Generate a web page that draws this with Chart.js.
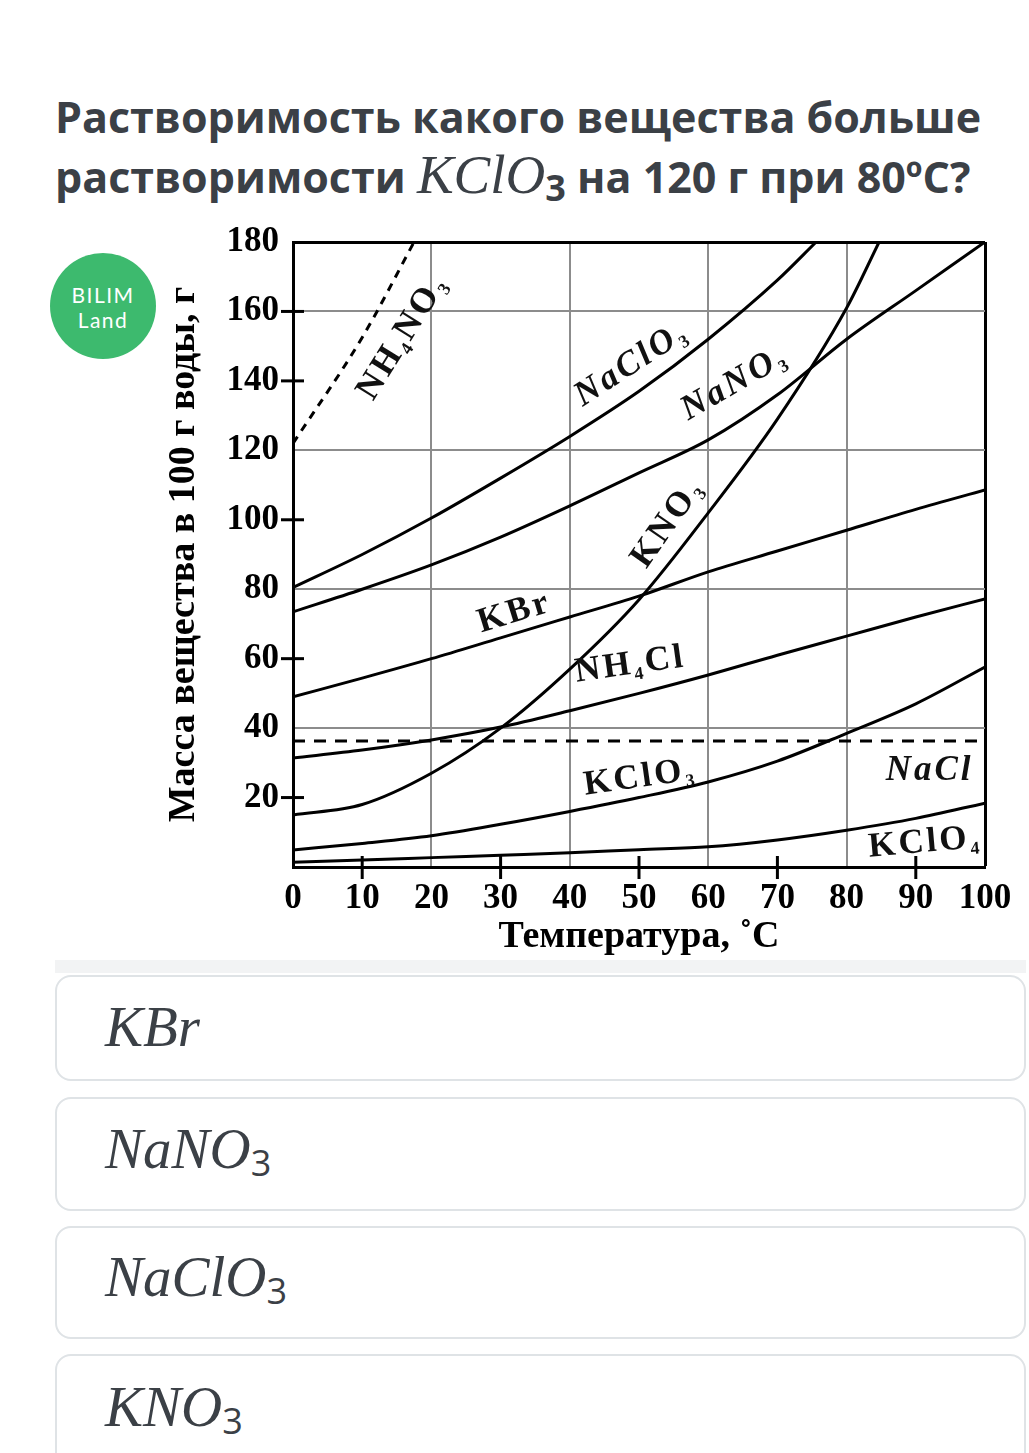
<!DOCTYPE html>
<html>
<head>
<meta charset="utf-8">
<script src="https://cdn.jsdelivr.net/npm/chart.js@4"></script>
<style>
  body{margin:0;background:#fff;width:1029px;height:1453px;overflow:hidden;position:relative;font-family:"Open Sans",sans-serif;color:#3b4046}
  #q{position:absolute;left:55px;top:88px;font-weight:700;font-size:43px;line-height:58px;white-space:nowrap}
  #q .m{font-family:"Liberation Serif",serif;font-style:italic;font-weight:400;font-size:55px}
  #q .s{font-size:36px;position:relative;top:8px}
  #logo{position:absolute;left:50px;top:253px;width:106px;height:106px;border-radius:50%;background:#3dba6e;color:#fff;
        font-family:Lato,sans-serif;font-weight:400;font-size:21px;line-height:25px;text-align:center;letter-spacing:1.5px}
  #logo div{padding-top:29px}
  #box{position:absolute;left:0;top:220px;width:1029px;height:750px}
  #band{position:absolute;left:55px;top:960px;width:971px;height:13px;background:#f2f3f4}
  .ans{position:absolute;left:55px;width:971px;border:2px solid #dfe3e6;border-radius:16px;box-sizing:border-box;background:#fff}
  .ans span{position:absolute;left:48px;font-family:"Liberation Serif",serif;font-style:italic;font-size:57px;line-height:56px;color:#3b4046;white-space:nowrap}
  .ans sub{font-family:"Open Sans",sans-serif;font-style:normal;font-size:36px;vertical-align:-8px}
</style>
</head>
<body>
<div id="q">Растворимость какого вещества больше<br>растворимости <span class="m">KClO</span><span class="s">3</span> на 120 г при 80ºC?</div>
<div id="logo"><div>BILIM<br>Land</div></div>
<div id="band"></div>
<div id="box"><canvas id="myChart" width="1029" height="750"></canvas></div>
<div class="ans" style="top:975px;height:106px"><span style="top:22px">KBr</span></div>
<div class="ans" style="top:1097px;height:114px"><span style="top:22px">NaNO<sub>3</sub></span></div>
<div class="ans" style="top:1226px;height:113px"><span style="top:21px">NaClO<sub>3</sub></span></div>
<div class="ans" style="top:1354px;height:120px"><span style="top:23px">KNO<sub>3</sub></span></div>
<script>
// valores (temperatura en C, masa en g por 100 g de agua)
var tFull = [0,10,20,30,40,50,60,70,80,90,100];
var tNaClO3 = [0,10,20,30,40,50,60,70,75.6];
var sNaClO3 = [80.5,90,100.5,112,124,137,152,169,180];
var sNaNO3 = [73.5,80,87,95,104,113.5,123,136,152,166,180];
var tKNO3 = [0,10,20,30,40,50,60,70,80,84.7];
var sKNO3 = [15,18,27,40,57,77,102,129,161,180];
var sKBr = [49,54.4,60,66,72,78,85,91,97,103,108.6];
var sNH4Cl = [31.4,33.7,36.6,40.3,45,50,55.3,61,66.5,72,77.2];
var sKClO3 = [4.9,6.8,9,12.3,16,20,24.5,30.5,38.5,47,57.6];
var sKClO4 = [1.4,2,2.7,3.4,4.1,5,5.8,7.8,10.6,14,18.4];
var tNaCl = [0,100];
var sNaCl = [36.3,36.3];
var tNH4NO3 = [0,10,17.5];
var sNH4NO3 = [122,152.5,180];

// marcas del eje y lineas de la rejilla
var xMarks = [10,30,50,70,90];
var yMarks = [20,60,100,140,160];
var xGrid = [20,40,60,80];
var yGrid = [40,80,120,160];

// etiquetas de las curvas: texto, posicion en valores, giro
var curveLabels = [
  {text:'NH_4NO_3', x:15.5, y:153, rot:-58, italic:false},
  {text:'NaClO_3', x:48.7, y:145.5, rot:-33, italic:true},
  {text:'NaNO_3', x:63.6, y:140, rot:-30, italic:true},
  {text:'KNO_3', x:53.8, y:99.5, rot:-55, italic:false},
  {text:'KBr', x:31.9, y:74, rot:-17, italic:false},
  {text:'NH_4Cl', x:48.7, y:59, rot:-8, italic:false},
  {text:'KClO_3', x:50.1, y:26.5, rot:-8, italic:false},
  {text:'NaCl', x:92, y:28.5, rot:0, italic:true},
  {text:'KClO_4', x:91.3, y:7.8, rot:-5, italic:false}
];

function pts(t, s){
  return t.map(function(v,i){ return {x:v, y:s[i]}; });
}
function serie(t, s, dash){
  return {data:pts(t,s), borderColor:'#000', borderWidth:3, pointRadius:0, fill:false,
          cubicInterpolationMode:'monotone', borderDash:dash || []};
}

var times = '"Liberation Serif", "DejaVu Serif", serif';

//dibuja las marcas cortas sobre los ejes
var marksPlugin = {
  id:'marks',
  afterDatasetsDraw:function(chart){
    var c = chart.ctx, a = chart.chartArea, xs = chart.scales.x, ys = chart.scales.y;
    c.save();
    c.strokeStyle = '#000';
    c.lineWidth = 3;
    xMarks.forEach(function(v){
      var px = xs.getPixelForValue(v);
      c.beginPath(); c.moveTo(px, a.bottom - 11); c.lineTo(px, a.bottom + 12); c.stroke();
    });
    yMarks.forEach(function(v){
      var py = ys.getPixelForValue(v);
      c.beginPath(); c.moveTo(a.left - 12, py); c.lineTo(a.left + 11, py); c.stroke();
    });
    c.restore();
  }
};

//etiquetas con subindices
function drawRich(c, text, size, italic){
  var segs = [];
  for (var i = 0; i < text.length; i++){
    if (text[i] === '_'){ segs.push({s:text[i+1], sub:true}); i++; }
    else segs.push({s:text[i], sub:false});
  }
  var mainFont = (italic ? 'italic ' : '') + 'bold ' + size + 'px ' + times;
  var subFont = 'bold ' + Math.round(size*0.5) + 'px ' + times;
  var gap = 3, w = 0;
  segs.forEach(function(g){ c.font = g.sub ? subFont : mainFont; g.w = c.measureText(g.s).width; w += g.w + gap; });
  var x = -w/2, base = size*0.34;
  segs.forEach(function(g){
    c.font = g.sub ? subFont : mainFont;
    c.fillText(g.s, x, g.sub ? base + size*0.18 : base);
    x += g.w + gap;
  });
}
var labelsPlugin = {
  id:'curveLabels',
  afterDatasetsDraw:function(chart){
    var c = chart.ctx, xs = chart.scales.x, ys = chart.scales.y;
    c.save();
    c.fillStyle = '#111';
    c.textBaseline = 'alphabetic';
    c.textAlign = 'left';
    curveLabels.forEach(function(l){
      c.save();
      c.translate(xs.getPixelForValue(l.x), ys.getPixelForValue(l.y));
      c.rotate(l.rot*Math.PI/180);
      drawRich(c, l.text, 35, l.italic);
      c.restore();
    });
    c.restore();
  }
};

var ctx = document.getElementById('myChart').getContext('2d');
var myChart = new Chart(ctx, {
  type:'line',
  data:{
    datasets:[
      serie(tNaClO3, sNaClO3),
      serie(tFull, sNaNO3),
      serie(tKNO3, sKNO3),
      serie(tFull, sKBr),
      serie(tFull, sNH4Cl),
      serie(tFull, sKClO3),
      serie(tFull, sKClO4),
      serie(tNaCl, sNaCl, [12,9]),
      serie(tNH4NO3, sNH4NO3, [8,7])
    ]
  },
  options:{
    responsive:false,
    animation:false,
    layout:{padding:{left:150, right:44, top:22, bottom:0}},
    plugins:{legend:{display:false}, tooltip:{enabled:false}},
    scales:{
      x:{
        type:'linear', min:0, max:100,
        afterFit:function(s){ s.height = 103; s.paddingLeft = 0; s.paddingRight = 0; },
        ticks:{stepSize:10, color:'#000', padding:11, maxRotation:0, font:{family:times, size:35, weight:'bold'}},
        grid:{
          drawTicks:false,
          color:function(c){ var v = c.tick.value; return v === 100 ? '#000' : (xGrid.indexOf(v) >= 0 ? '#8c8c8c' : 'rgba(0,0,0,0)'); },
          lineWidth:function(c){ return c.tick.value === 100 ? 3 : 2; }
        },
        border:{display:true, color:'#000', width:3},
        title:{display:true, text:'Температура, ˚C', color:'#000', font:{family:times, size:38, weight:'bold'}, padding:{top:0, bottom:10}}
      },
      y:{
        min:0, max:180,
        afterFit:function(s){ s.width = 143; s.paddingTop = 0; s.paddingBottom = 0; },
        ticks:{stepSize:20, color:'#000', padding:14, font:{family:times, size:35, weight:'bold'},
               callback:function(v){ return v === 0 ? '' : v; }},
        grid:{
          drawTicks:false,
          color:function(c){ var v = c.tick.value; return v === 180 ? '#000' : (yGrid.indexOf(v) >= 0 ? '#8c8c8c' : 'rgba(0,0,0,0)'); },
          lineWidth:function(c){ return c.tick.value === 180 ? 3 : 2; }
        },
        border:{display:true, color:'#000', width:3},
        title:{display:true, text:'Масса вещества в 100 г воды, г', color:'#000', font:{family:times, size:38, weight:'bold'}, padding:{top:11, bottom:0}}
      }
    }
  },
  plugins:[marksPlugin, labelsPlugin]
});
</script>
</body>
</html>
